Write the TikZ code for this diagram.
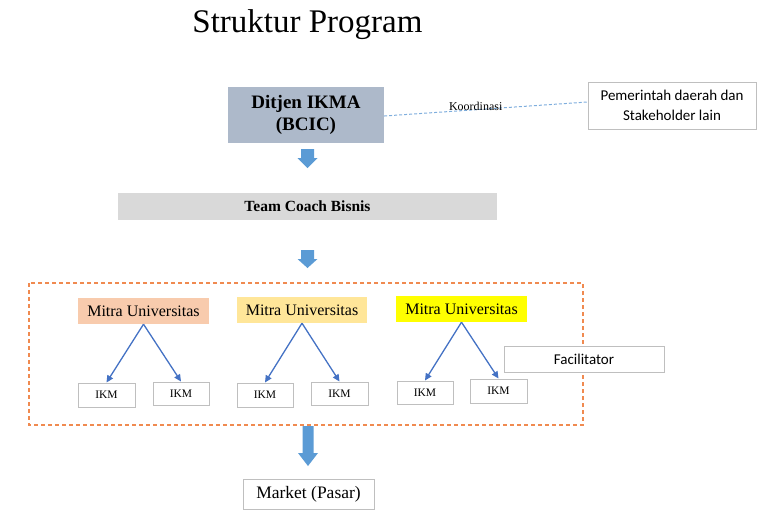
\documentclass[tikz,border=0pt]{standalone}
\usepackage{fontspec}
\setmainfont{Liberation Serif}
\newfontfamily\calfont{Carlito}
\usetikzlibrary{arrows.meta}
\definecolor{boxgray}{HTML}{BFBFBF}
\definecolor{ditjenfill}{HTML}{ADB9CA}
\definecolor{teamfill}{HTML}{D9D9D9}
\definecolor{mitraA}{HTML}{F8CBAD}
\definecolor{mitraB}{HTML}{FFE699}
\definecolor{mitraC}{HTML}{FFFF00}
\definecolor{arrowblue}{HTML}{5B9BD5}
\definecolor{linkblue}{HTML}{4472C4}
\definecolor{coordblue}{HTML}{7FAEDD}
\definecolor{orangedash}{HTML}{F08A50}
\tikzset{
  plainbox/.style={draw=boxgray, line width=1pt, fill=white, inner sep=0pt, align=center},
  ikmbox/.style={plainbox, minimum height=23pt, font=\fontsize{11.5}{13}\selectfont},
  mitrabox/.style={inner sep=0pt, minimum width=131pt, minimum height=26pt, font=\fontsize{16}{18}\selectfont},
  link/.style={draw=linkblue, line width=1.3pt, -{Triangle[length=7pt,width=6.5pt]}},
  blockfill/.style={fill=arrowblue}
}
\begin{document}
\begin{tikzpicture}[x=1pt,y=-1pt]
\useasboundingbox (0,0) rectangle (768,515);
% title
\node[anchor=base, inner sep=0pt, font=\fontsize{33}{36}\selectfont] (title) at (307.5,32) {Struktur Program};
% top
\node[fill=ditjenfill, inner sep=0pt, minimum width=156pt, minimum height=56pt, align=center,
      font=\fontsize{19}{22}\selectfont\bfseries] (ditjen) at (306,115) {Ditjen IKMA\\(BCIC)};
\node[plainbox, minimum width=168pt, minimum height=47pt, font=\calfont\fontsize{15}{20}\selectfont] (pemda) at (672,105.5) {Pemerintah daerah dan\\Stakeholder lain};
\draw[coordblue, line width=1pt, dash pattern=on 3pt off 2pt] (ditjen.east) ++(0,1) coordinate (c1) -- (pemda.west|-0,102)
  node[pos=0.45, anchor=base, inner sep=0pt, yshift=-1pt, text=black, font=\fontsize{12}{13}\selectfont] (koord) {Koordinasi};
% block arrow 1
\fill[blockfill] (301,149) -- (314,149) -- (314,158) -- (317.5,158) -- (307.5,168) -- (297.5,158) -- (301,158) -- cycle;
% team coach
\node[fill=teamfill, inner sep=0pt, minimum width=379pt, minimum height=27pt,
      font=\fontsize{15.5}{18}\selectfont\bfseries] (team) at (307.5,206.5) {Team Coach Bisnis};
% block arrow 2
\fill[blockfill] (301,250) -- (314,250) -- (314,259) -- (317.5,259) -- (307.5,268) -- (297.5,259) -- (301,259) -- cycle;
% dashed container
\draw[orangedash, line width=1.3pt, dash pattern=on 4pt off 3pt] (29,283) rectangle (583,425);
% mitra
\node[mitrabox, fill=mitraA] (m1) at (143.5,311) {Mitra Universitas};
\node[mitrabox, fill=mitraB, minimum width=130pt] (m2) at (302,310) {Mitra Universitas};
\node[mitrabox, fill=mitraC] (m3) at (461.5,309) {Mitra Universitas};
% ikm
\node[ikmbox, minimum width=57pt, minimum height=24pt] (i1) at (106.5,395) {IKM};
\node[ikmbox, minimum width=56pt] (i2) at (181,393.5) {IKM};
\node[ikmbox, minimum width=56pt, minimum height=24pt] (i3) at (265,395) {IKM};
\node[ikmbox, minimum width=57pt] (i4) at (339.5,393.5) {IKM};
\node[ikmbox, minimum width=56pt] (i5) at (425,392.5) {IKM};
\node[ikmbox, minimum width=57pt, minimum height=24pt] (i6) at (498.5,391) {IKM};
\draw[link] (m1.south) -- (i1.north);
\draw[link] (m1.south) -- (i2.north);
\draw[link] (m2.south) -- (i3.north);
\draw[link] (m2.south) -- (i4.north);
\draw[link] (m3.south) -- (i5.north);
\draw[link] (m3.south) -- (i6.north);
% facilitator
\node[plainbox, minimum width=160pt, minimum height=26pt, font=\calfont\fontsize{15}{18}\selectfont] (fac) at (584,359) {Facilitator};
% block arrow 3
\fill[blockfill] (302.5,426) -- (313.5,426) -- (313.5,453) -- (318,453) -- (308,466) -- (298,453) -- (302.5,453) -- cycle;
% market
\node[plainbox, minimum width=131pt, minimum height=30pt, font=\fontsize{17.5}{20}\selectfont] (market) at (308.5,494) {Market (Pasar)};
\end{tikzpicture}
\end{document}
